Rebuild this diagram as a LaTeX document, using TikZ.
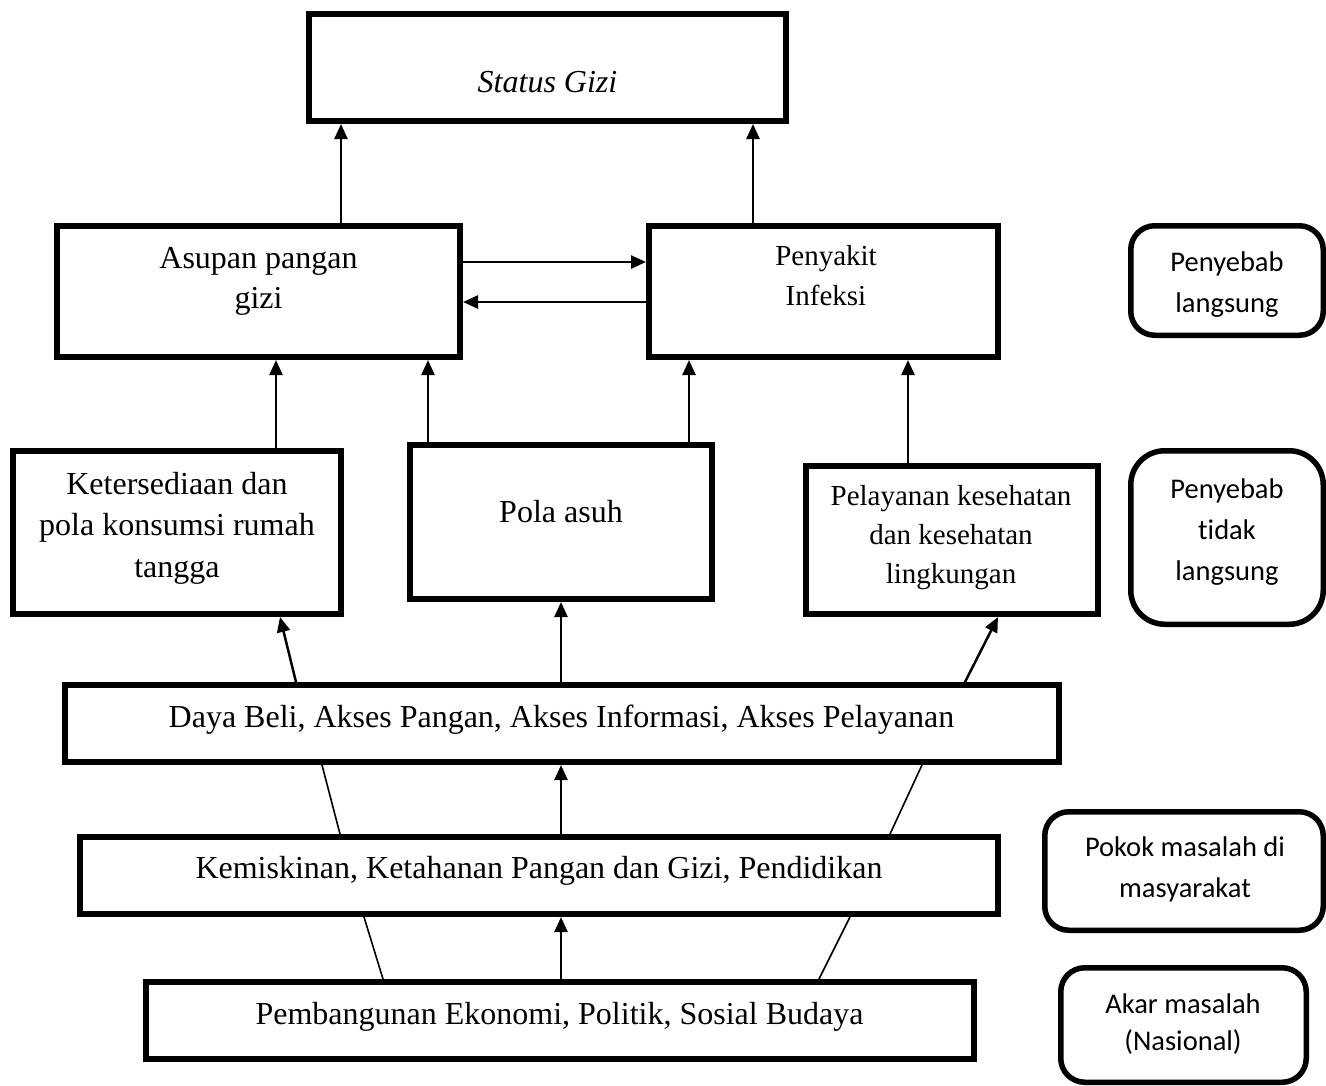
\documentclass[tikz,border=0pt]{standalone}
\usepackage{fontspec}
\setmainfont{Liberation Serif}
\newfontfamily\calib[Ligatures=NoCommon]{Carlito}
\usetikzlibrary{arrows.meta}
\tikzset{
  sqbox/.style={draw, line width=6pt, inner sep=0pt},
  rbox/.style={draw, line width=5.5pt, inner sep=0pt, rounded corners=24pt},
  uparrow/.style={line width=2.5pt, -{Triangle[length=15pt,width=13pt]}},
  thinline/.style={line width=1.6pt},
  tr/.style={font=\fontsize{32}{41}\selectfont, align=center, inner sep=0pt, anchor=base},
  trs/.style={font=\fontsize{29}{40}\selectfont, align=center, inner sep=0pt, anchor=base},
  cal/.style={font=\calib\fontsize{28.5}{40.5}\selectfont, align=center, inner sep=0pt, anchor=base}
}
\begin{document}
\begin{tikzpicture}[x=1pt,y=-1pt]
\useasboundingbox[fill=white] (0,0) rectangle (1326,1085);

% boxes
\node[sqbox, minimum width=477pt, minimum height=107pt] (status) at (547.5,67.5) {};
\node[sqbox, minimum width=403pt, minimum height=131pt] (asupan) at (258.5,291.5) {};
\node[sqbox, minimum width=349pt, minimum height=131pt] (penyakit) at (823.5,291.5) {};
\node[sqbox, minimum width=328pt, minimum height=163pt] (keter) at (177,532.5) {};
\node[sqbox, minimum width=302pt, minimum height=154pt] (pola) at (561,522) {};
\node[sqbox, minimum width=292pt, minimum height=148pt] (pelay) at (952,540) {};
\node[sqbox, minimum width=994pt, minimum height=77pt] (daya) at (562,723.5) {};
\node[sqbox, minimum width=918pt, minimum height=77pt] (kemis) at (539,875.5) {};
\node[sqbox, minimum width=828pt, minimum height=77pt] (pemb) at (560,1020.5) {};

% right-hand rounded boxes
\node[rbox, minimum width=192.5pt, minimum height=109.5pt] (langsung) at (1227,280.5) {};
\node[rbox, rounded corners=34pt, minimum width=192.5pt, minimum height=173.5pt] (tidak) at (1227,537.5) {};
\node[rbox, minimum width=278.5pt, minimum height=118.5pt] (pokok) at (1184,871) {};
\node[rbox, minimum width=245.5pt, minimum height=114.5pt] (akar) at (1183.5,1025) {};

% texts (anchor=base is the baseline of the last line)
\node[tr, font=\fontsize{32}{41}\selectfont\itshape] (tstatus) at (547.5,92) {Status Gizi};
\node[tr, font=\fontsize{32}{40}\selectfont] (tasupan) at (258.5,308) {Asupan pangan\\gizi};
\node[trs] (tpenyakit) at (826,305) {Penyakit\\Infeksi};
\node[tr, font=\fontsize{32}{41.5}\selectfont] (tketer) at (177,577) {Ketersediaan dan\\pola konsumsi rumah\\tangga};
\node[tr] (tpola) at (561,522) {Pola asuh};
\node[trs, font=\fontsize{29}{39}\selectfont] (tpelay) at (951,583) {Pelayanan kesehatan\\dan kesehatan\\lingkungan};
\node[tr] (tdaya) at (561.5,727) {Daya Beli, Akses Pangan, Akses Informasi, Akses Pelayanan};
\node[tr] (tkemis) at (539,878) {Kemiskinan, Ketahanan Pangan dan Gizi, Pendidikan};
\node[tr] (tpemb) at (559.5,1024) {Pembangunan Ekonomi, Politik, Sosial Budaya};

\node[cal] (tlangsung) at (1227,312) {Penyebab\\langsung};
\node[cal, font=\calib\fontsize{28.5}{41}\selectfont] (ttidak) at (1227,580) {Penyebab\\tidak\\langsung};
\node[cal] (tpokok) at (1185,897) {Pokok masalah di\\masyarakat};
\node[cal, font=\calib\fontsize{28.5}{37}\selectfont] (takar) at (1183,1050) {Akar masalah\\(Nasional)};

% arrows to Status Gizi
\draw[uparrow] (asupan.north -| 341,0) -- (status.south -| 341,0);
\draw[uparrow] (penyakit.north -| 753,0) -- (status.south -| 753,0);

% arrows between Asupan and Penyakit
\draw[uparrow] (asupan.east |- 0,262) -- (penyakit.west |- 0,262);
\draw[uparrow] (penyakit.west |- 0,302) -- (asupan.east |- 0,302);

% arrows from middle row
\draw[uparrow] (keter.north -| 276,0) -- (asupan.south -| 276,0);
\draw[uparrow] (pola.north -| 428,0) -- (asupan.south -| 428,0);
\draw[uparrow] (pola.north -| 689,0) -- (penyakit.south -| 689,0);
\draw[uparrow] (pelay.north -| 908,0) -- (penyakit.south -| 908,0);

% arrows from Daya Beli
\draw[uparrow] (daya.north -| 296,0) -- (keter.south -| 280,0);
\draw[uparrow] (daya.north -| 561,0) -- (pola.south -| 561,0);
\draw[uparrow] (daya.north -| 965,0) -- (pelay.south -| 998,0);

% Kemiskinan to Daya Beli
\draw[uparrow] (kemis.north -| 561,0) -- (daya.south -| 561,0);
\draw[thinline] (kemis.north -| 340,0) -- (daya.south -| 322,0);
\draw[thinline] (kemis.north -| 890,0) -- (daya.south -| 922,0);

% Pembangunan to Kemiskinan
\draw[uparrow] (pemb.north -| 561,0) -- (kemis.south -| 561,0);
\draw[thinline] (pemb.north -| 383,0) -- (kemis.south -| 364,0);
\draw[thinline] (pemb.north -| 819,0) -- (kemis.south -| 850,0);
\end{tikzpicture}
\end{document}
